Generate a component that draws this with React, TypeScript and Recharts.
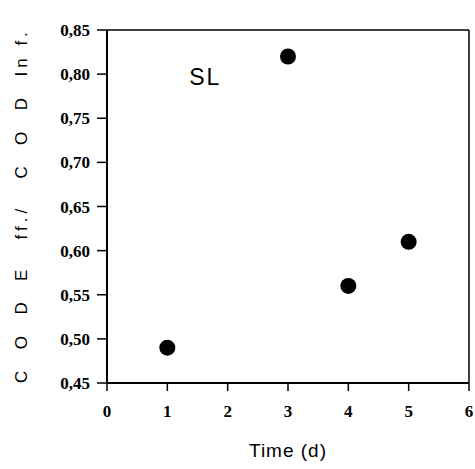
import React from "react";
import {
  ScatterChart,
  Scatter,
  XAxis,
  YAxis,
  ReferenceDot,
  ReferenceLine,
} from "recharts";

const days = [1, 3, 4, 5];
const codRatio = [0.49, 0.82, 0.56, 0.61];
const xTicks = [0, 1, 2, 3, 4, 5, 6];
const yTicks = [0.45, 0.5, 0.55, 0.6, 0.65, 0.7, 0.75, 0.8, 0.85];
const xTitle = "Time (d)";
const yTitle = "C  O  D  E   ff./   C  O  D  In f.";
const annotation = { text: "SL", x: 1.63, y: 0.797 };
const xMax = 6;
const yMax = 0.85;

const data = days.map((d, i) => ({ day: d, ratio: codRatio[i] }));

const serif = "'Liberation Serif', 'Times New Roman', serif";
const sans = "'Liberation Sans', Arial, sans-serif";

const XTick = (props: any) => {
  const { x, y, payload } = props;
  return (
    <text
      x={x}
      y={y + 22}
      textAnchor="middle"
      fontFamily={serif}
      fontWeight={700}
      fontSize={17}
      fill="#000"
    >
      {payload.value}
    </text>
  );
};

const YTick = (props: any) => {
  const { x, y, payload } = props;
  return (
    <text
      x={x}
      y={y + 6}
      textAnchor="end"
      fontFamily={serif}
      fontWeight={700}
      fontSize={17}
      fill="#000"
    >
      {Number(payload.value).toFixed(2).replace(".", ",")}
    </text>
  );
};

const Dot = (props: any) => {
  const { cx, cy } = props;
  return <circle cx={cx} cy={cy} r={8} fill="#000" />;
};

export default function App() {
  return (
    <div
      style={{
        position: "fixed",
        left: 0,
        top: 0,
        width: 475,
        height: 469,
        background: "#fff",
      }}
    >
      <ScatterChart
        width={475}
        height={469}
        margin={{ top: 30, right: 6, bottom: 0, left: 0 }}
      >
        <XAxis
          type="number"
          dataKey="day"
          domain={[0, 6]}
          ticks={xTicks}
          interval={0}
          tickSize={8}
          tickMargin={4}
          height={86}
          axisLine={{ stroke: "#000", strokeWidth: 2 }}
          tickLine={{ stroke: "#000", strokeWidth: 1.5 }}
          tick={<XTick />}
          label={{
            content: (p: any) => {
              const vb = p.viewBox;
              return (
                <text
                  x={vb.x + vb.width / 2}
                  y={457}
                  textAnchor="middle"
                  fontFamily={sans}
                  fontSize={19}
                  letterSpacing={1}
                  fill="#000"
                >
                  {xTitle}
                </text>
              );
            },
          }}
        />
        <YAxis
          type="number"
          dataKey="ratio"
          domain={[0.45, 0.85]}
          ticks={yTicks}
          interval={0}
          width={107}
          tickSize={10}
          tickMargin={7}
          axisLine={{ stroke: "#000", strokeWidth: 2 }}
          tickLine={{ stroke: "#000", strokeWidth: 1.5 }}
          tick={<YTick />}
          label={{
            content: () => {
              const lx = 21;
              const ly = 383;
              return (
                <text
                  x={lx}
                  y={ly}
                  transform={`rotate(-90, ${lx}, ${ly})`}
                  textAnchor="start"
                  dominantBaseline="central"
                  fontFamily={sans}
                  fontSize={17}
                  letterSpacing={4}
                  fill="#000"
                >
                  {yTitle.replace(/ /g, "\u00A0")}
                </text>
              );
            },
          }}
        />
        <ReferenceLine y={yMax} stroke="#000" strokeWidth={1.5} />
        <ReferenceLine x={xMax} stroke="#000" strokeWidth={1.5} />
        <Scatter
          data={data}
          fill="#000"
          shape={<Dot />}
          isAnimationActive={false}
        />
        <ReferenceDot
          x={annotation.x}
          y={annotation.y}
          r={0}
          fill="none"
          stroke="none"
          label={{
            value: annotation.text,
            position: "center",
            fontFamily: sans,
            fontSize: 23,
            letterSpacing: 2,
            fill: "#000",
          }}
        />
      </ScatterChart>
    </div>
  );
}
